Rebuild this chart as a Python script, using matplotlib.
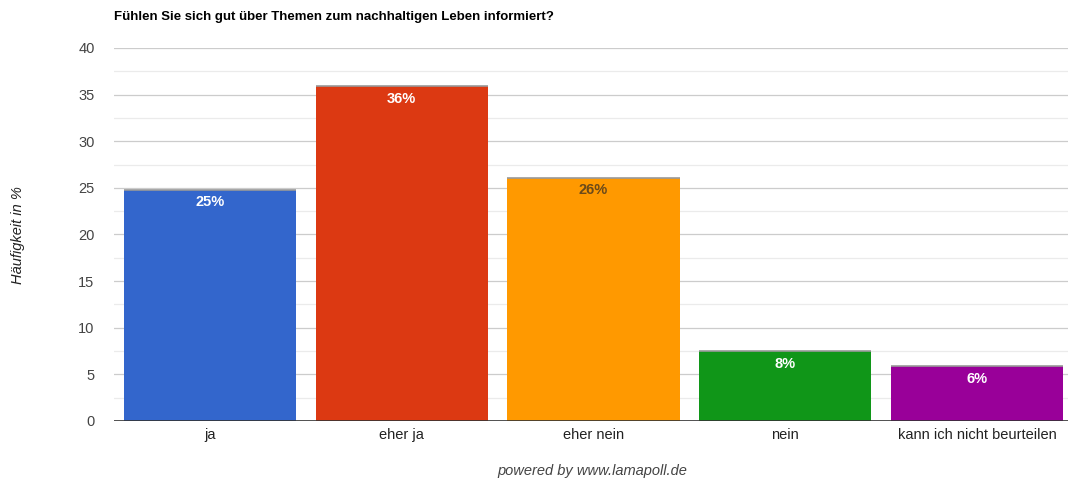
import matplotlib
matplotlib.use("Agg")
import matplotlib.pyplot as plt
import numpy as np

categories = ["ja", "eher ja", "eher nein", "nein", "kann ich nicht beurteilen"]
values = [24.8, 35.9, 26.1, 7.5, 5.9]
labels = ["25%", "36%", "26%", "8%", "6%"]
colors = ["#3366CC", "#DC3912", "#FF9900", "#109618", "#990099"]
label_colors = ["white", "white", "#6b4a1a", "white", "white"]

plt.rcParams['font.family'] = ['Liberation Sans', 'DejaVu Sans']

fig = plt.figure(figsize=(10.68, 4.83), dpi=100)
ax = fig.add_axes([114/1068, 1-421/483, 959/1068, (421-48)/483])

x = np.arange(len(categories))
ax.set_xlim(-0.5, len(categories) - 0.5)
ax.set_ylim(0, 40)

for y in np.arange(2.5, 40, 5):
    ax.axhline(y, color="#ebebeb", lw=0.9, zorder=0)
for y in np.arange(5, 41, 5):
    ax.axhline(y, color="#cccccc", lw=0.9, zorder=0)

bw = 0.897
ax.bar(x, values, width=bw, color=colors, zorder=2)
ax.hlines(values, x - bw/2, x + bw/2, color="#999999", lw=1.2, zorder=3)

for xi, v, lab, lc in zip(x, values, labels, label_colors):
    ax.annotate(lab, (xi, v), xytext=(0, -4), textcoords="offset points",
                ha="center", va="top", color=lc, fontsize=10.5, fontweight="bold", zorder=4)

ax.axhline(0, color="#333333", lw=1.2, zorder=5)

for s in ax.spines.values():
    s.set_visible(False)
ax.tick_params(axis="both", length=0, colors="#444444", labelsize=10.5)
ax.tick_params(axis="y", pad=14)
ax.tick_params(axis="x", pad=5)
ax.set_yticks(np.arange(0, 41, 5))
ax.set_xticks(x)
ax.set_xticklabels(categories, color="#222222")

fig.text(114/1068, 1-17/483, "Fühlen Sie sich gut über Themen zum nachhaltigen Leben informiert?",
         ha="left", va="center", fontsize=9.5, fontweight="bold", color="#000000")
fig.text(18/1068, 1-235/483, "Häufigkeit in %", rotation=90, ha="center", va="center",
         fontsize=10.5, style="italic", color="#222222")
fig.text(592/1068, 1-471/483, "powered by www.lamapoll.de", ha="center", va="center",
         fontsize=10.5, style="italic", color="#444444")

fig.savefig("out.png", dpi=100)
